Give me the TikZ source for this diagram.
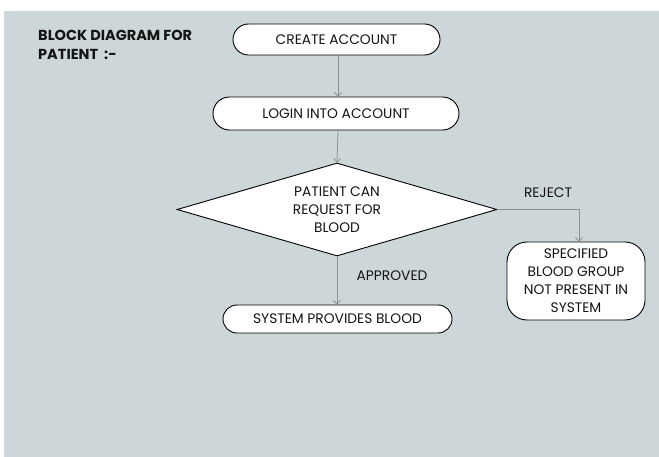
\documentclass[tikz,border=0pt]{standalone}
\usepackage{fontspec}
\setmainfont{Poppins}
\usetikzlibrary{shapes.geometric,shapes.misc,arrows.meta}
\definecolor{bg}{RGB}{205,214,217}
\definecolor{arr}{RGB}{140,145,148}
\definecolor{ink}{RGB}{20,20,20}
\begin{document}
\begin{tikzpicture}[x=1pt,y=-1pt,
  txt/.style={text=ink, font=\fontsize{13.8}{18}\selectfont, align=center, inner sep=0},
  term/.style={rounded rectangle, draw=black, line width=0.9pt, fill=white, inner sep=0, txt},
  decision/.style={diamond, draw=black, line width=0.9pt, fill=white, inner sep=0},
  outbox/.style={rectangle, rounded corners=20pt, draw=black, line width=0.9pt, fill=white, inner sep=0, txt},
  flow/.style={draw=arr, line width=0.8pt, -{Straight Barb[length=3.5pt,width=7pt]}},
  lbl/.style={txt}
]
\useasboundingbox (0,0) rectangle (659,457);
\fill[bg] (4,11) rectangle (659,457);

\node[anchor=north west, text=ink, font=\bfseries\fontsize{14.5}{18.5}\selectfont, align=left, inner sep=0] (title) at (38,30) {BLOCK DIAGRAM FOR\\PATIENT \ :-};

\node[term, minimum width=207, minimum height=31] (create) at (336.5,39.5) {CREATE ACCOUNT};
\node[term, minimum width=246, minimum height=33] (login) at (336,113.5) {LOGIN INTO ACCOUNT};
\node[decision, minimum width=320, minimum height=93] (dec) at (337,209.5) {};
\node[txt] (dectext) at (337,210) {PATIENT CAN\\REQUEST FOR\\BLOOD};
\node[term, minimum width=229, minimum height=28] (provide) at (337.5,319) {SYSTEM PROVIDES BLOOD};
\node[outbox, minimum width=138, minimum height=78] (notpresent) at (576,281) {SPECIFIED\\BLOOD GROUP\\NOT PRESENT IN\\SYSTEM};

\node[lbl] (reject) at (548,193) {REJECT};
\node[lbl] (approved) at (392,276) {APPROVED};

\draw[flow] (create.south -| 338,0) -- (login.north -| 338,0);
\draw[flow] (login.south -| 338,0) -- (dec.north);
\draw[flow] (dec.south) -- (provide.north -| dec.south);
\draw[flow] (dec.east) -| (notpresent.north -| 579,0);
\end{tikzpicture}
\end{document}
